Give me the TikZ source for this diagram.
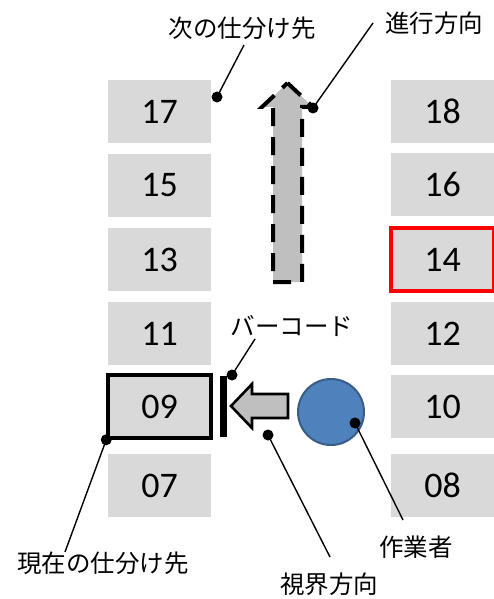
\documentclass[tikz,border=0pt]{standalone}
\usepackage{fontspec}
\setmainfont{Carlito}
\newfontfamily\jp{Noto Sans CJK JP}
\begin{document}
\begin{tikzpicture}[x=1pt,y=-1pt,
  slot/.style={rectangle,fill=slotgray,minimum width=103pt,minimum height=63pt,
    inner sep=0pt,font=\fontsize{36}{36}\selectfont},
  current/.style={slot,draw=black,line width=3.5pt},
  target/.style={slot,draw=red,line width=3.5pt},
  lbl/.style={inner sep=0pt,font=\jp\fontsize{24.5}{26}\selectfont},
  leader/.style={line width=1.4pt,draw=black},
  blockarrow/.style={fill=arrowgray,draw=black,line width=2.6pt,line join=miter},
  dashedarrow/.style={fill=arrowgray,draw=black,line width=4pt,dash pattern=on 18pt off 11pt}]
\definecolor{slotgray}{HTML}{D9D9D9}
\definecolor{arrowgray}{HTML}{BFBFBF}
\definecolor{workerblue}{HTML}{4F81BD}
\definecolor{workerrim}{HTML}{385D8A}
\useasboundingbox (0,0) rectangle (494,599);

% sorting slots, odd numbers on the left, even on the right
\node[slot]    (s17) at (159.5,111.5) {17};
\node[slot]    (s15) at (159.5,185.5) {15};
\node[slot]    (s13) at (159.5,259.5) {13};
\node[slot]    (s11) at (159.5,333.5) {11};
\node[current] (s09) at (159.5,406.5) {09};
\node[slot]    (s07) at (159.5,485.5) {07};
\node[slot]    (s18) at (442.5,111.5) {18};
\node[slot]    (s16) at (442.5,184.5) {16};
\node[target]  (s14) at (442.5,259.5) {14};
\node[slot]    (s12) at (442.5,333.5) {12};
\node[slot]    (s10) at (442.5,406.5) {10};
\node[slot]    (s08) at (442.5,485.5) {08};

% travel direction (dashed block arrow)
\path[dashedarrow] (287.5,83) -- (313,107) -- (302,107) -- (302,282)
  -- (273,282) -- (273,107) -- (262,107) -- cycle;

% barcode bar and line of sight
\node[fill=black,minimum width=7pt,minimum height=61pt,inner sep=0pt] (bar) at (223.5,406.5) {};
\path[blockarrow] (231,406) -- (252,384) -- (252,394) -- (288,394)
  -- (288,418) -- (252,418) -- (252,428) -- cycle;

% worker
\node[circle,fill=workerblue,draw=workerrim,line width=2pt,minimum size=66pt,inner sep=0pt]
  (worker) at (331,412) {};

% labels
\node[lbl] (lnext)  at (242,28)  {次の仕分け先};
\node[lbl] (ldir)   at (434,23)  {進行方向};
\node[lbl] (lbar)   at (292,326) {バーコード};
\node[lbl] (lcur)   at (103,563) {現在の仕分け先};
\node[lbl] (lview)  at (329,584) {視界方向};
\node[lbl] (lwork)  at (416,547) {作業者};

% leader dots and line ends
\coordinate (dnext) at (217,97);   \coordinate (enext) at (244,45);
\coordinate (ddir)  at (313,108);  \coordinate (edir)  at (373,23);
\coordinate (dbar)  at (232,375);  \coordinate (ebar)  at (255,339);
\coordinate (dcur)  at (s09.south west); \coordinate (ecur) at (65,552);
\coordinate (dview) at (268,435);  \coordinate (eview) at (330,557);
\coordinate (dwork) at (355,423);  \coordinate (ework) at (403,520);

\foreach \d/\e in {dnext/enext,ddir/edir,dbar/ebar,dcur/ecur,dview/eview,dwork/ework}{
  \draw[leader] (\d) -- (\e);
  \fill (\d) circle (5.5);
}
\end{tikzpicture}
\end{document}
